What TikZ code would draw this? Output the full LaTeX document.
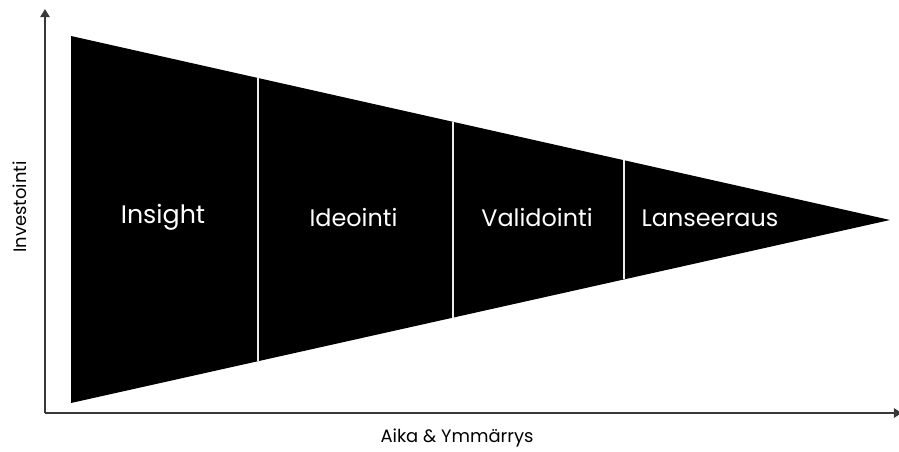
\documentclass[tikz,border=0pt]{standalone}
\usepackage{fontspec}
\setmainfont{Poppins}
\usetikzlibrary{arrows.meta,calc}
\begin{document}
\begin{tikzpicture}[x=2cm,y=2cm,
  axis/.style={line width=1.3pt, black!78, -{Triangle[width=5.2pt,length=4.6pt]}},
  divider/.style={line width=1.1pt, black!8},
  phase/.style={white, anchor=base, font=\fontsize{13.6}{16}\selectfont},
  axislabel/.style={black, font=\fontsize{10.2}{12}\selectfont}]
\useasboundingbox (0,0) rectangle (8.99,4.52);
% axes
\coordinate (o) at (0.45,0.39);
\coordinate (ytop) at (0.45,4.43);
\coordinate (xend) at (9.02,0.39);
\draw[axis] (o) -- (ytop);
\draw[axis] (o) -- (xend);
% funnel
\coordinate (tl) at (0.71,4.16);
\coordinate (bl) at (0.71,0.49);
\coordinate (tip) at (8.90,2.32);
\fill[black] (tl) -- (tip) -- (bl) -- cycle;
\foreach \t in {0.2283,0.4664,0.6752}
  \draw[divider] ($(tl)!\t!(tip)$) -- ($(bl)!\t!(tip)$);
% phases
\node[phase, font=\fontsize{14.4}{17}\selectfont] (insight) at (1.63,2.28) {Insight};
\node[phase] (ideointi) at (3.535,2.25) {Ideointi};
\node[phase] (validointi) at (5.37,2.25) {Validointi};
\node[phase] (lanseeraus) at (7.10,2.25) {Lanseeraus};
% axis labels
\node[axislabel, anchor=base] (xlabel) at (4.57,0.09) {Aika \& Ymmärrys};
\node[axislabel, rotate=90] (ylabel) at (0.20,2.45) {Investointi};
\end{tikzpicture}
\end{document}
